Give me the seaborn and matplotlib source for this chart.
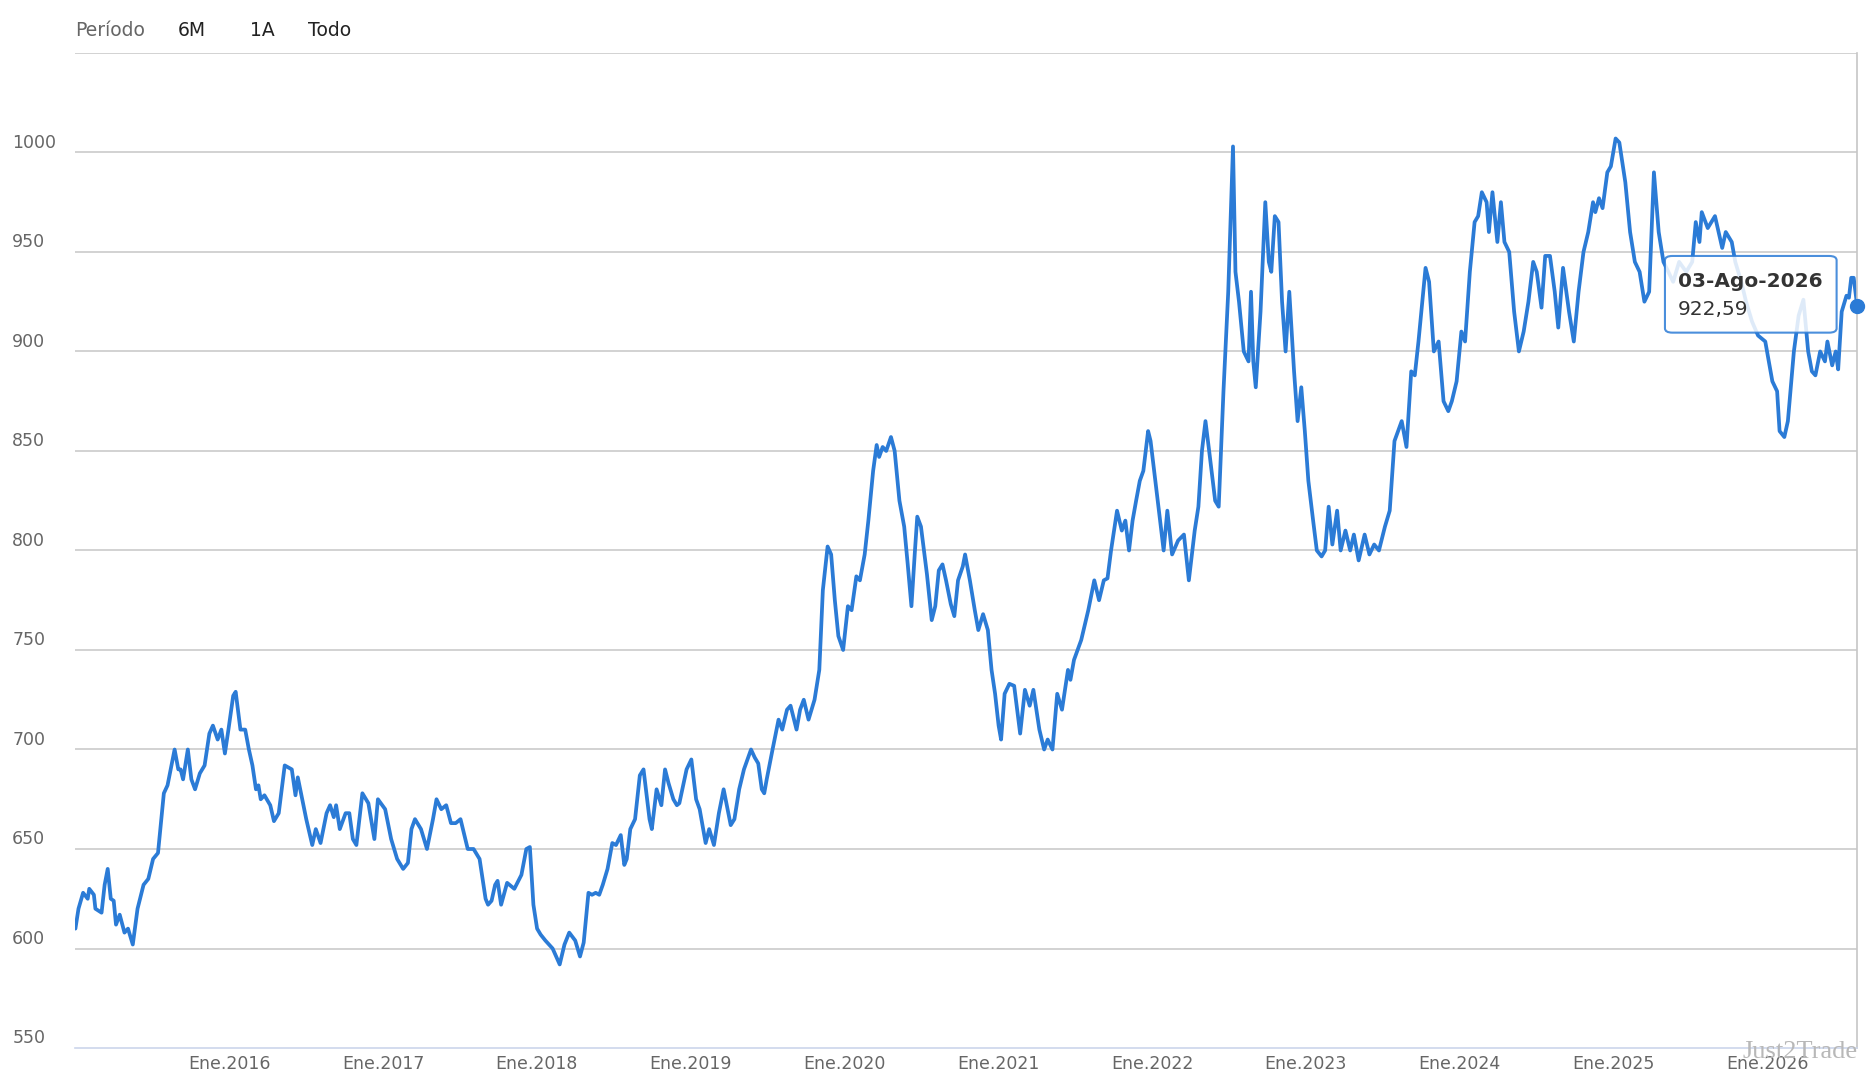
import pandas as pd
import seaborn as sns
import matplotlib.pyplot as plt
import matplotlib.transforms as mtransforms
from matplotlib.patches import FancyBboxPatch

# fecha en años decimales (2015.00 = Ene.2015) y precio
fechas = [
    2015.00, 2015.02, 2015.05, 2015.08, 2015.09, 2015.12, 2015.13, 2015.17, 2015.19, 2015.21,
    2015.23, 2015.249, 2015.264, 2015.288, 2015.319, 2015.342, 2015.373, 2015.404, 2015.443, 2015.474,
    2015.505, 2015.537, 2015.575, 2015.599, 2015.645, 2015.669, 2015.684, 2015.700, 2015.731, 2015.754,
    2015.778, 2015.809, 2015.840, 2015.871, 2015.894, 2015.925, 2015.949, 2015.972, 2015.995, 2016.026,
    2016.042, 2016.073, 2016.104, 2016.128, 2016.151, 2016.174, 2016.190, 2016.205, 2016.229, 2016.252,
    2016.267, 2016.291, 2016.322, 2016.361, 2016.407, 2016.431, 2016.446, 2016.501, 2016.540, 2016.563,
    2016.594, 2016.633, 2016.656, 2016.680, 2016.695, 2016.719, 2016.757, 2016.781, 2016.804, 2016.827,
    2016.866, 2016.905, 2016.944, 2016.967, 2017.014, 2017.053, 2017.092, 2017.131, 2017.162, 2017.185,
    2017.208, 2017.247, 2017.286, 2017.325, 2017.348, 2017.379, 2017.411, 2017.442, 2017.473, 2017.504,
    2017.551, 2017.589, 2017.628, 2017.667, 2017.683, 2017.706, 2017.729, 2017.745, 2017.768, 2017.807,
    2017.854, 2017.900, 2017.932, 2017.955, 2017.978, 2018.002, 2018.025, 2018.056, 2018.103, 2018.149,
    2018.180, 2018.211, 2018.250, 2018.281, 2018.305, 2018.336, 2018.359, 2018.383, 2018.406, 2018.429,
    2018.460, 2018.491, 2018.515, 2018.546, 2018.569, 2018.585, 2018.608, 2018.639, 2018.670, 2018.694,
    2018.733, 2018.748, 2018.779, 2018.810, 2018.834, 2018.857, 2018.888, 2018.911, 2018.927, 2018.974,
    2019.005, 2019.036, 2019.059, 2019.098, 2019.121, 2019.152, 2019.184, 2019.215, 2019.246, 2019.261,
    2019.285, 2019.316, 2019.347, 2019.393, 2019.417, 2019.440, 2019.463, 2019.479, 2019.495, 2019.533,
    2019.572, 2019.596, 2019.627, 2019.650, 2019.689, 2019.712, 2019.736, 2019.767, 2019.806, 2019.837,
    2019.860, 2019.891, 2019.914, 2019.938, 2019.961, 2019.992, 2020.023, 2020.047, 2020.078, 2020.101,
    2020.132, 2020.156, 2020.187, 2020.210, 2020.226, 2020.249, 2020.272, 2020.303, 2020.327, 2020.358,
    2020.389, 2020.412, 2020.436, 2020.459, 2020.474, 2020.498, 2020.537, 2020.568, 2020.591, 2020.614,
    2020.638, 2020.661, 2020.692, 2020.715, 2020.739, 2020.770, 2020.785, 2020.816, 2020.848, 2020.871,
    2020.902, 2020.933, 2020.957, 2020.980, 2021.003, 2021.019, 2021.042, 2021.073, 2021.104, 2021.143,
    2021.174, 2021.205, 2021.229, 2021.268, 2021.299, 2021.322, 2021.353, 2021.384, 2021.415, 2021.454,
    2021.470, 2021.493, 2021.540, 2021.586, 2021.625, 2021.656, 2021.687, 2021.711, 2021.734, 2021.773,
    2021.804, 2021.827, 2021.851, 2021.874, 2021.897, 2021.921, 2021.944, 2021.975, 2021.991, 2022.030,
    2022.053, 2022.076, 2022.100, 2022.131, 2022.170, 2022.208, 2022.240, 2022.278, 2022.302, 2022.325,
    2022.348, 2022.372, 2022.411, 2022.434, 2022.465, 2022.496, 2022.527, 2022.543, 2022.566, 2022.597,
    2022.628, 2022.644, 2022.659, 2022.675, 2022.706, 2022.737, 2022.760, 2022.776, 2022.799, 2022.823,
    2022.846, 2022.869, 2022.893, 2022.924, 2022.947, 2022.971, 2022.994, 2023.017, 2023.048, 2023.072,
    2023.103, 2023.126, 2023.149, 2023.173, 2023.204, 2023.227, 2023.258, 2023.289, 2023.313, 2023.344,
    2023.383, 2023.414, 2023.445, 2023.476, 2023.515, 2023.546, 2023.577, 2023.624, 2023.655, 2023.686,
    2023.709, 2023.733, 2023.779, 2023.802, 2023.833, 2023.864, 2023.896, 2023.927, 2023.950, 2023.981,
    2024.012, 2024.036, 2024.067, 2024.098, 2024.121, 2024.145, 2024.176, 2024.191, 2024.214, 2024.246,
    2024.269, 2024.292, 2024.323, 2024.355, 2024.386, 2024.417, 2024.448, 2024.479, 2024.502, 2024.533,
    2024.557, 2024.588, 2024.619, 2024.642, 2024.673, 2024.712, 2024.743, 2024.774, 2024.806, 2024.837,
    2024.868, 2024.883, 2024.907, 2024.930, 2024.961, 2024.984, 2025.015, 2025.039, 2025.078, 2025.109,
    2025.140, 2025.171, 2025.202, 2025.233, 2025.264, 2025.295, 2025.326, 2025.358, 2025.389, 2025.428,
    2025.474, 2025.513, 2025.536, 2025.560, 2025.575, 2025.614, 2025.661, 2025.708, 2025.731, 2025.770,
    2025.793, 2025.832, 2025.863, 2025.902, 2025.941, 2025.988, 2026.034, 2026.065, 2026.081, 2026.112,
    2026.135, 2026.174, 2026.205, 2026.236, 2026.267, 2026.291, 2026.314, 2026.345, 2026.376, 2026.392,
    2026.423, 2026.446, 2026.462, 2026.485, 2026.516, 2026.532, 2026.547, 2026.563, 2026.586,
]
precios = [
    610, 620, 628, 625, 630, 627, 620, 618, 632, 640,
    625, 624, 612, 617, 608, 610, 602, 620, 632, 635,
    645, 648, 678, 682, 700, 690, 690, 685, 700, 685,
    680, 688, 692, 708, 712, 705, 710, 698, 710, 727,
    729, 710, 710, 700, 692, 680, 682, 675, 677, 674,
    672, 664, 668, 692, 690, 677, 686, 665, 652, 660,
    653, 668, 672, 666, 672, 660, 668, 668, 655, 652,
    678, 673, 655, 675, 670, 655, 645, 640, 643, 660,
    665, 660, 650, 665, 675, 670, 672, 663, 663, 665,
    650, 650, 645, 625, 622, 624, 632, 634, 622, 633,
    630, 637, 650, 651, 622, 610, 607, 604, 600, 592,
    602, 608, 604, 596, 603, 628, 627, 628, 627, 632,
    640, 653, 652, 657, 642, 645, 660, 665, 687, 690,
    665, 660, 680, 672, 690, 683, 675, 672, 673, 690,
    695, 675, 670, 653, 660, 652, 668, 680, 668, 662,
    665, 680, 690, 700, 696, 693, 680, 678, 685, 700,
    715, 710, 720, 722, 710, 720, 725, 715, 725, 740,
    780, 802, 798, 775, 757, 750, 772, 770, 787, 785,
    798, 815, 840, 853, 847, 852, 850, 857, 850, 825,
    812, 793, 772, 800, 817, 812, 788, 765, 772, 790,
    793, 785, 773, 767, 785, 792, 798, 785, 770, 760,
    768, 760, 740, 728, 712, 705, 728, 733, 732, 708,
    730, 722, 730, 710, 700, 705, 700, 728, 720, 740,
    735, 745, 755, 770, 785, 775, 785, 786, 800, 820,
    810, 815, 800, 815, 825, 835, 840, 860, 855, 830,
    815, 800, 820, 798, 805, 808, 785, 810, 822, 850,
    865, 850, 825, 822, 880, 930, 1003, 940, 925, 900,
    895, 930, 895, 882, 920, 975, 945, 940, 968, 965,
    925, 900, 930, 890, 865, 882, 860, 835, 815, 800,
    797, 800, 822, 803, 820, 800, 810, 800, 808, 795,
    808, 798, 803, 800, 812, 820, 855, 865, 852, 890,
    888, 905, 942, 935, 900, 905, 875, 870, 875, 885,
    910, 905, 940, 965, 968, 980, 975, 960, 980, 955,
    975, 955, 950, 920, 900, 910, 925, 945, 940, 922,
    948, 948, 930, 912, 942, 920, 905, 930, 950, 960,
    975, 970, 977, 972, 990, 993, 1007, 1005, 985, 960,
    945, 940, 925, 930, 990, 960, 945, 940, 935, 945,
    940, 945, 965, 955, 970, 962, 968, 952, 960, 955,
    945, 935, 925, 915, 908, 905, 885, 880, 860, 857,
    865, 900, 918, 926, 900, 890, 888, 900, 895, 905,
    893, 900, 891, 920, 928, 927, 937, 937, 922.59,
]

anios_ticks = [2016, 2017, 2018, 2019, 2020, 2021, 2022, 2023, 2024, 2025, 2026]
etiquetas_x = ["Ene." + str(a) for a in anios_ticks]
niveles_y = [550, 600, 650, 700, 750, 800, 850, 900, 950, 1000, 1050]
etiquetas_y = ["550", "600", "650", "700", "750", "800", "850", "900", "950", "1000", ""]
periodos = ["6M", "1A", "Todo"]
fecha_tooltip = "03-Ago-2026"
valor_tooltip = "922,59"

df = pd.DataFrame({"fecha": fechas, "precio": precios})

sns.set_style("white")
plt.rcParams["font.family"] = ["DejaVu Sans"]

azul = "#2b7bd6"
gris_txt = "#666666"

fig = plt.figure(figsize=(18.76, 10.8), dpi=100)
ax = fig.add_axes([0.0402, 0.0296, 0.9498, 0.9214])

sns.lineplot(data=df, x="fecha", y="precio", ax=ax, color=azul, linewidth=2.7)
ax.plot(df["fecha"].iloc[-1], df["precio"].iloc[-1], "o", color=azul,
        markersize=10, clip_on=False, zorder=5)

ax.set_xlim(df["fecha"].iloc[0], df["fecha"].iloc[-1])
ax.set_ylim(niveles_y[0], niveles_y[-1])
ax.set_xlabel("")
ax.set_ylabel("")

# rejilla horizontal
for n in niveles_y[1:]:
    ax.axhline(n, color="#c6c6c6", linewidth=1.1, zorder=0)

ax.set_xticks(anios_ticks)
ax.set_xticklabels(etiquetas_x, fontsize=12.5, color=gris_txt)
ax.tick_params(axis="x", direction="in", length=6, width=1, color="#ccd6eb", pad=5)
ax.set_yticks([])

# etiquetas del eje y encima de cada línea
trans = mtransforms.blended_transform_factory(fig.transFigure, ax.transData)
trans = mtransforms.offset_copy(trans, fig=fig, y=7, units="points")
for n, lab in zip(niveles_y, etiquetas_y):
    ax.text(0.0065, n, lab, transform=trans, ha="left", va="center",
            fontsize=12.5, color=gris_txt, clip_on=False)

for lado in ["left", "top"]:
    ax.spines[lado].set_visible(False)
ax.spines["bottom"].set_color("#ccd6eb")
ax.spines["bottom"].set_linewidth(1.2)
ax.spines["right"].set_color("#c6c6c6")
ax.spines["right"].set_linewidth(1.2)

# selector de período
fig.text(0.040, 0.972, "Período", fontsize=13.5, color=gris_txt, va="center", ha="left")
for xp, p in zip([0.095, 0.133, 0.164], periodos):
    fig.text(xp, 0.972, p, fontsize=13.5, color="#222222", va="center", ha="left")

# tooltip
caja = FancyBboxPatch((0.8875, 0.692), 0.0915, 0.071,
                      boxstyle="round,pad=0,rounding_size=0.004",
                      transform=fig.transFigure, facecolor="white", alpha=0.85,
                      edgecolor=azul, linewidth=1.5, zorder=10)
fig.patches.append(caja)
fig.text(0.8945, 0.739, fecha_tooltip, fontsize=14.5, fontweight="bold",
         color="#333333", va="center", ha="left", zorder=11)
fig.text(0.8945, 0.713, valor_tooltip, fontsize=14.5, color="#333333",
         va="center", ha="left", zorder=11)

# marca de agua
fig.text(0.990, 0.026, "Just2Trade", fontsize=19, color="#b8b8b8",
         family=["Liberation Serif", "DejaVu Serif"], ha="right", va="center")

fig.savefig("out.png", dpi=100)
